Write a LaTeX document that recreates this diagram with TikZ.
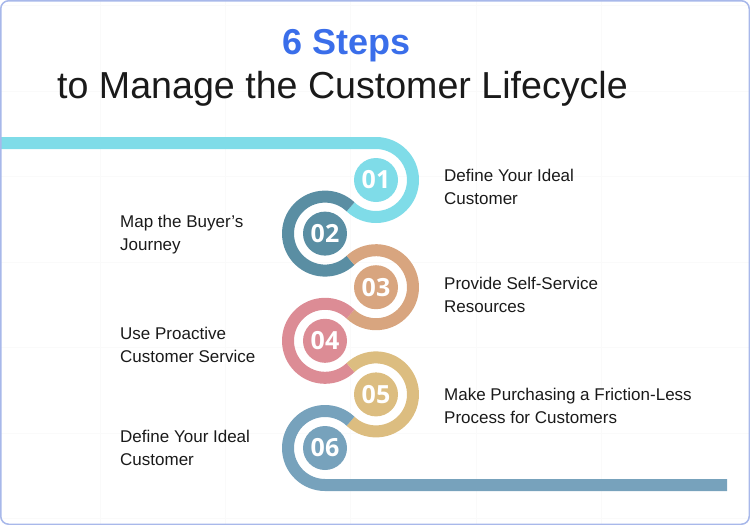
\documentclass[tikz,border=0pt]{standalone}
\usepackage{fontspec}
\setmainfont{Liberation Sans}
\newfontfamily\numfont{Open Sans}
\definecolor{c1}{HTML}{7FDCE8}
\definecolor{c2}{HTML}{5A8EA3}
\definecolor{c3}{HTML}{D8A57F}
\definecolor{c4}{HTML}{DC8C95}
\definecolor{c5}{HTML}{DCBD80}
\definecolor{c6}{HTML}{77A2BC}
\definecolor{titleblue}{HTML}{3A6EEA}
\definecolor{framecol}{HTML}{A8B8EA}
\definecolor{textdark}{HTML}{1A1A1A}

\begin{document}
\begin{tikzpicture}
[every node/.style={inner sep=0pt},
 grid/.style={line width=0.8pt, color=black!2},
 ring/.style={line width=12pt},
 disc/.style={circle, minimum size=44pt, text=white, font=\numfont\bfseries\fontsize{25}{25}\selectfont},
 step label/.style={anchor=base west, align=left, text=textdark, font=\fontsize{17}{23.5}\selectfont},
 frame/.style={draw=framecol, line width=1.5pt, rounded corners=8pt}]
\useasboundingbox (0pt, 0pt) rectangle (750pt, -525pt);
\foreach \x in {100.0, 225.3, 350.6, 475.9, 601.2} \draw [grid] (\x pt, 0pt) -- (\x pt, -525pt);
\foreach \y in {5.5, 91.0, 176.5, 262.0, 347.5, 433.0, 518.5} \draw [grid] (0pt, -\y pt) -- (750pt, -\y pt);
\node (title) [anchor=base, text=titleblue, font=\bfseries\fontsize{36}{36}\selectfont] at (346.5pt, -54.0pt) {6 Steps};
\node (subtitle) [anchor=base, text=textdark, font=\fontsize{37.6}{40}\selectfont] at (342.5pt, -98.0pt) {to Manage the Customer Lifecycle};
\coordinate (in) at (0.0pt, -143.0pt);
\coordinate (out) at (727.0pt, -485.0pt);
\node (1) [disc, fill=c1] at (376.0pt, -180.0pt) {01};
\node (2) [disc, fill=c2] at (325.0pt, -233.6pt) {02};
\node (3) [disc, fill=c3] at (376.0pt, -287.2pt) {03};
\node (4) [disc, fill=c4] at (325.0pt, -340.8pt) {04};
\node (5) [disc, fill=c5] at (376.0pt, -394.4pt) {05};
\node (6) [disc, fill=c6] at (325.0pt, -448.0pt) {06};
\draw [ring, color=c1] (in) -- ([yshift=37pt]1.center) arc [start angle=90, end angle=-133.6, radius=37pt];
\draw [ring, color=c2] ([shift={(46.4:37pt)}]2.center) arc [start angle=46.4, end angle=313.6, radius=37pt];
\draw [ring, color=c3] ([shift={(133.6:37pt)}]3.center) arc [start angle=133.6, end angle=-133.6, radius=37pt];
\draw [ring, color=c4] ([shift={(46.4:37pt)}]4.center) arc [start angle=46.4, end angle=313.6, radius=37pt];
\draw [ring, color=c5] ([shift={(133.6:37pt)}]5.center) arc [start angle=133.6, end angle=-133.6, radius=37pt];
\draw [ring, color=c6] ([shift={(46.4:37pt)}]6.center) arc [start angle=46.4, end angle=270, radius=37pt] -- (out);
% labels: base anchor sits on the second line
\node (t1) [step label] at (444.0pt, -204.5pt) {Define Your Ideal\\Customer};
\node (t2) [step label] at (120.0pt, -250.5pt) {Map the Buyer’s\\Journey};
\node (t3) [step label] at (444.0pt, -312.5pt) {Provide Self-Service\\Resources};
\node (t4) [step label] at (120.0pt, -362.5pt) {Use Proactive\\Customer Service};
\node (t5) [step label] at (444.0pt, -423.5pt) {Make Purchasing a Friction-Less\\Process for Customers};
\node (t6) [step label] at (120.0pt, -465.5pt) {Define Your Ideal\\Customer};
\draw [frame] (0.75pt, -0.75pt) rectangle (749.25pt, -524.25pt);
\end{tikzpicture}
\end{document}
